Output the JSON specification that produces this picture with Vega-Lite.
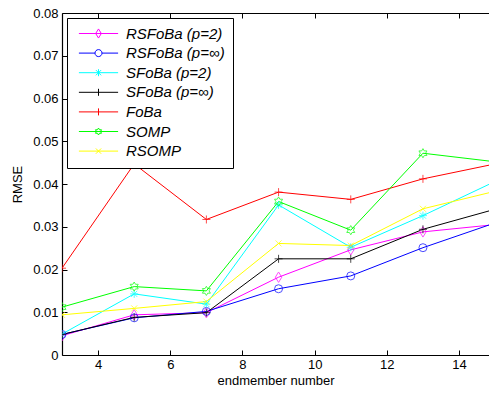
{
  "$schema": "https://vega.github.io/schema/vega-lite/v6.json",
  "width": 427,
  "height": 342,
  "autosize": {"type": "none"},
  "padding": {"left": 62, "top": 13, "right": 0, "bottom": 38},
  "background": "white",
  "config": {
    "font": "Liberation Sans",
    "view": {"stroke": null},
    "axis": {"grid": false, "domainColor": "black", "tickColor": "black", "labelColor": "black", "titleColor": "black", "labelFont": "Liberation Sans", "titleFont": "Liberation Sans", "labelFontSize": 13, "titleFontSize": 13, "titleFontWeight": "normal", "domainWidth": 1.2, "tickWidth": 1}
  },
  "data": {
    "values": [
      {"series": "RSFoBa (p=2)", "x": 3, "rmse": 0.0045},
      {"series": "RSFoBa (p=2)", "x": 5, "rmse": 0.0094},
      {"series": "RSFoBa (p=2)", "x": 7, "rmse": 0.0099},
      {"series": "RSFoBa (p=2)", "x": 9, "rmse": 0.0182},
      {"series": "RSFoBa (p=2)", "x": 11, "rmse": 0.0246},
      {"series": "RSFoBa (p=2)", "x": 13, "rmse": 0.0288},
      {"series": "RSFoBa (p=2)", "x": 15, "rmse": 0.0305},
      {"series": "RSFoBa (p=∞)", "x": 3, "rmse": 0.0048},
      {"series": "RSFoBa (p=∞)", "x": 5, "rmse": 0.0087},
      {"series": "RSFoBa (p=∞)", "x": 7, "rmse": 0.0102},
      {"series": "RSFoBa (p=∞)", "x": 9, "rmse": 0.0155},
      {"series": "RSFoBa (p=∞)", "x": 11, "rmse": 0.0185},
      {"series": "RSFoBa (p=∞)", "x": 13, "rmse": 0.0251},
      {"series": "RSFoBa (p=∞)", "x": 15, "rmse": 0.0309},
      {"series": "SFoBa (p=2)", "x": 3, "rmse": 0.0049},
      {"series": "SFoBa (p=2)", "x": 5, "rmse": 0.0143},
      {"series": "SFoBa (p=2)", "x": 7, "rmse": 0.0119},
      {"series": "SFoBa (p=2)", "x": 9, "rmse": 0.0351},
      {"series": "SFoBa (p=2)", "x": 11, "rmse": 0.0252},
      {"series": "SFoBa (p=2)", "x": 13, "rmse": 0.0326},
      {"series": "SFoBa (p=2)", "x": 15, "rmse": 0.0406},
      {"series": "SFoBa (p=∞)", "x": 3, "rmse": 0.0048},
      {"series": "SFoBa (p=∞)", "x": 5, "rmse": 0.0088},
      {"series": "SFoBa (p=∞)", "x": 7, "rmse": 0.0099},
      {"series": "SFoBa (p=∞)", "x": 9, "rmse": 0.0225},
      {"series": "SFoBa (p=∞)", "x": 11, "rmse": 0.0225},
      {"series": "SFoBa (p=∞)", "x": 13, "rmse": 0.0294},
      {"series": "SFoBa (p=∞)", "x": 15, "rmse": 0.0341},
      {"series": "FoBa", "x": 3, "rmse": 0.0203},
      {"series": "FoBa", "x": 5, "rmse": 0.0447},
      {"series": "FoBa", "x": 7, "rmse": 0.0317},
      {"series": "FoBa", "x": 9, "rmse": 0.0381},
      {"series": "FoBa", "x": 11, "rmse": 0.0364},
      {"series": "FoBa", "x": 13, "rmse": 0.0412},
      {"series": "FoBa", "x": 15, "rmse": 0.0447},
      {"series": "SOMP", "x": 3, "rmse": 0.0112},
      {"series": "SOMP", "x": 5, "rmse": 0.0160},
      {"series": "SOMP", "x": 7, "rmse": 0.0150},
      {"series": "SOMP", "x": 9, "rmse": 0.0359},
      {"series": "SOMP", "x": 11, "rmse": 0.0292},
      {"series": "SOMP", "x": 13, "rmse": 0.0472},
      {"series": "SOMP", "x": 15, "rmse": 0.0452},
      {"series": "RSOMP", "x": 3, "rmse": 0.0094},
      {"series": "RSOMP", "x": 5, "rmse": 0.0109},
      {"series": "RSOMP", "x": 7, "rmse": 0.0125},
      {"series": "RSOMP", "x": 9, "rmse": 0.0261},
      {"series": "RSOMP", "x": 11, "rmse": 0.0256},
      {"series": "RSOMP", "x": 13, "rmse": 0.0342},
      {"series": "RSOMP", "x": 15, "rmse": 0.0383}
    ]
  },
  "resolve": {"axis": {"x": "independent"}},
  "encoding": {
    "y": {"field": "rmse", "type": "quantitative", "scale": {"domain": [0, 0.08], "nice": false},
          "axis": {"values": [0, 0.01, 0.02, 0.03, 0.04, 0.05, 0.06, 0.07, 0.08], "format": ".2~f", "tickSize": -5, "labelPadding": 9, "title": "RMSE", "titlePadding": 8}},
    "color": {"field": "series", "type": "nominal",
      "scale": {"domain": ["RSFoBa (p=2)", "RSFoBa (p=∞)", "SFoBa (p=2)", "SFoBa (p=∞)", "FoBa", "SOMP", "RSOMP"],
                "range": ["#ff00ff", "#0000ff", "#00ffff", "#000000", "#ff0000", "#00ff00", "#ffff00"]},
      "legend": {
        "title": null, "orient": "top-left", "offset": 5, "padding": 8,
        "strokeColor": "black", "fillColor": "white",
        "labelFontSize": 15, "labelFontStyle": "italic", "labelFont": "Liberation Sans", "labelColor": "black",
        "symbolSize": 49, "symbolOffset": 16, "labelOffset": 20, "rowPadding": 3.6, "symbolStrokeWidth": 1,
        "encode": {
          "symbols": {"update": {
            "fill": {"value": "transparent"},
            "strokeWidth": {"value": 1},
            "shape": {"signal": "({'RSFoBa (p=2)': 'M-5.6,0L5.6,0M0,-1.3L0.8,0L0,1.3L-0.8,0Z', 'RSFoBa (p=∞)': 'M-5.6,0L-1,0M1,0L5.6,0M1,0A1,1 0 1,1 -1,0A1,1 0 1,1 1,0Z', 'SFoBa (p=2)': 'M-5.6,0L5.6,0M0,-1L0,1M-0.75,-0.75L0.75,0.75M-0.75,0.75L0.75,-0.75', 'SFoBa (p=∞)': 'M-5.6,0L5.6,0M0,-1L0,1', 'FoBa': 'M-5.6,0L5.6,0M0,-1L0,1', 'SOMP': 'M-5.6,0L5.6,0M0,-1L0.289,-0.5L0.866,-0.5L0.577,0L0.866,0.5L0.289,0.5L0,1L-0.289,0.5L-0.866,0.5L-0.577,0L-0.866,-0.5L-0.289,-0.5Z', 'RSOMP': 'M-5.6,0L5.6,0M-0.75,-0.75L0.75,0.75M-0.75,0.75L0.75,-0.75'})[datum.value]"}
          }}
        }
      }
    }
  },
  "layer": [
    {
      "mark": {"type": "line", "strokeWidth": 1, "clip": true},
      "encoding": {
        "x": {"field": "x", "type": "quantitative", "scale": {"domain": [3, 14.83], "nice": false, "zero": false},
              "axis": {"orient": "bottom", "values": [4, 6, 8, 10, 12, 14], "tickSize": -5, "labelPadding": 8, "title": "endmember number", "titlePadding": 3}},
        "detail": {"field": "series"}
      }
    },
    {
      "transform": [{"filter": "datum.series === 'RSFoBa (p=2)'"}],
      "mark": {"type": "point", "filled": false, "strokeWidth": 1, "size": 64, "clip": true, "shape": "M0,-1.3L0.8,0L0,1.3L-0.8,0Z"},
      "encoding": {
        "x": {"field": "x", "type": "quantitative",
              "axis": {"orient": "top", "values": [4, 6, 8, 10, 12, 14], "tickSize": -5, "labels": false, "title": null}}
      }
    },
    {
      "transform": [{"filter": "datum.series === 'RSFoBa (p=∞)'"}],
      "mark": {"type": "point", "filled": false, "strokeWidth": 1, "size": 64, "clip": true, "shape": "circle"},
      "encoding": {"x": {"field": "x", "type": "quantitative", "axis": null}}
    },
    {
      "transform": [{"filter": "datum.series === 'SFoBa (p=2)'"}],
      "mark": {"type": "point", "filled": false, "strokeWidth": 1, "size": 64, "clip": true, "shape": "M-1,0H1M0,-1V1M-0.75,-0.75L0.75,0.75M-0.75,0.75L0.75,-0.75"},
      "encoding": {"x": {"field": "x", "type": "quantitative", "axis": null}}
    },
    {
      "transform": [{"filter": "datum.series === 'SFoBa (p=∞)'"}],
      "mark": {"type": "point", "filled": false, "strokeWidth": 1, "size": 64, "clip": true, "shape": "M-1,0H1M0,-1V1"},
      "encoding": {"x": {"field": "x", "type": "quantitative", "axis": null}}
    },
    {
      "transform": [{"filter": "datum.series === 'FoBa'"}],
      "mark": {"type": "point", "filled": false, "strokeWidth": 1, "size": 64, "clip": true, "shape": "M-1,0H1M0,-1V1"},
      "encoding": {"x": {"field": "x", "type": "quantitative", "axis": null}}
    },
    {
      "transform": [{"filter": "datum.series === 'SOMP'"}],
      "mark": {"type": "point", "filled": false, "strokeWidth": 1, "size": 64, "clip": true, "shape": "M0,-1.15L0.33,-0.575L1,-0.575L0.66,0L1,0.575L0.33,0.575L0,1.15L-0.33,0.575L-1,0.575L-0.66,0L-1,-0.575L-0.33,-0.575Z"},
      "encoding": {"x": {"field": "x", "type": "quantitative", "axis": null}}
    },
    {
      "transform": [{"filter": "datum.series === 'RSOMP'"}],
      "mark": {"type": "point", "filled": false, "strokeWidth": 1, "size": 64, "clip": true, "shape": "M-0.75,-0.75L0.75,0.75M-0.75,0.75L0.75,-0.75"},
      "encoding": {"x": {"field": "x", "type": "quantitative", "axis": null}}
    }
  ]
}
